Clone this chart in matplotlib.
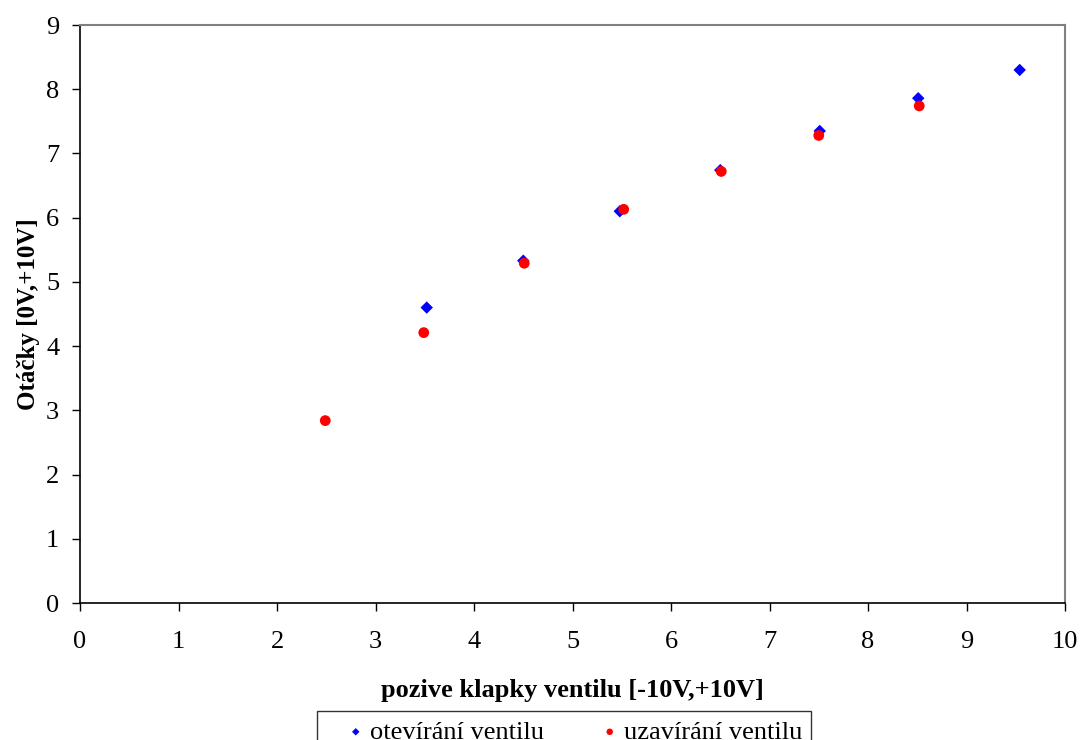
import matplotlib.pyplot as plt

# otevírání ventilu (opening)
open_x = [3.52, 4.50, 5.48, 6.50, 7.51, 8.51, 9.54]
open_y = [4.60, 5.33, 6.10, 6.74, 7.35, 7.86, 8.30]

# uzavírání ventilu (closing)
close_x = [2.49, 3.49, 4.51, 5.52, 6.51, 7.50, 8.52]
close_y = [2.84, 4.21, 5.29, 6.13, 6.72, 7.28, 7.74]

plt.rcParams['font.family'] = ['Liberation Serif', 'DejaVu Serif']

fig = plt.figure(figsize=(10.81, 7.40), dpi=100)
ax = fig.add_axes([80 / 1081, 1 - 603 / 740, 985 / 1081, 578 / 740])

ax.scatter(open_x, open_y, marker='D', s=40, color='#0000ff', zorder=3,
           label='otevírání ventilu', edgecolors='none')
ax.scatter(close_x, close_y, marker='o', s=60, color='#ff0000', zorder=4,
           label='uzavírání ventilu', edgecolors='none')

ax.set_xlim(0, 10)
ax.set_ylim(0, 9)
ax.set_xticks(range(0, 11))
ax.set_yticks(range(0, 10))
ax.tick_params(labelsize=19, length=6, width=1, direction='out', color='black')
ax.tick_params(axis='x', pad=14)
ax.tick_params(axis='y', pad=9)

for side in ['top', 'right']:
    ax.spines[side].set_color('#808080')
    ax.spines[side].set_linewidth(1.5)
for side in ['left', 'bottom']:
    ax.spines[side].set_color('black')
    ax.spines[side].set_linewidth(1.2)

ax.set_xlabel('pozive klapky ventilu [-10V,+10V]', fontsize=19, fontweight='bold', labelpad=19)
ax.set_ylabel('Otáčky [0V,+10V]', fontsize=18, fontweight='bold', labelpad=4)

leg = fig.legend(loc='upper center', bbox_to_anchor=(564 / 1081, 1 - 711 / 740), ncol=2,
                 fontsize=19, frameon=True, fancybox=False, edgecolor='black',
                 handletextpad=-0.6, columnspacing=1.37, borderpad=0.35,
                 markerscale=0.6, handlelength=2.26, borderaxespad=0)
leg.get_frame().set_linewidth(1.0)

fig.savefig('out.png', dpi=100)
